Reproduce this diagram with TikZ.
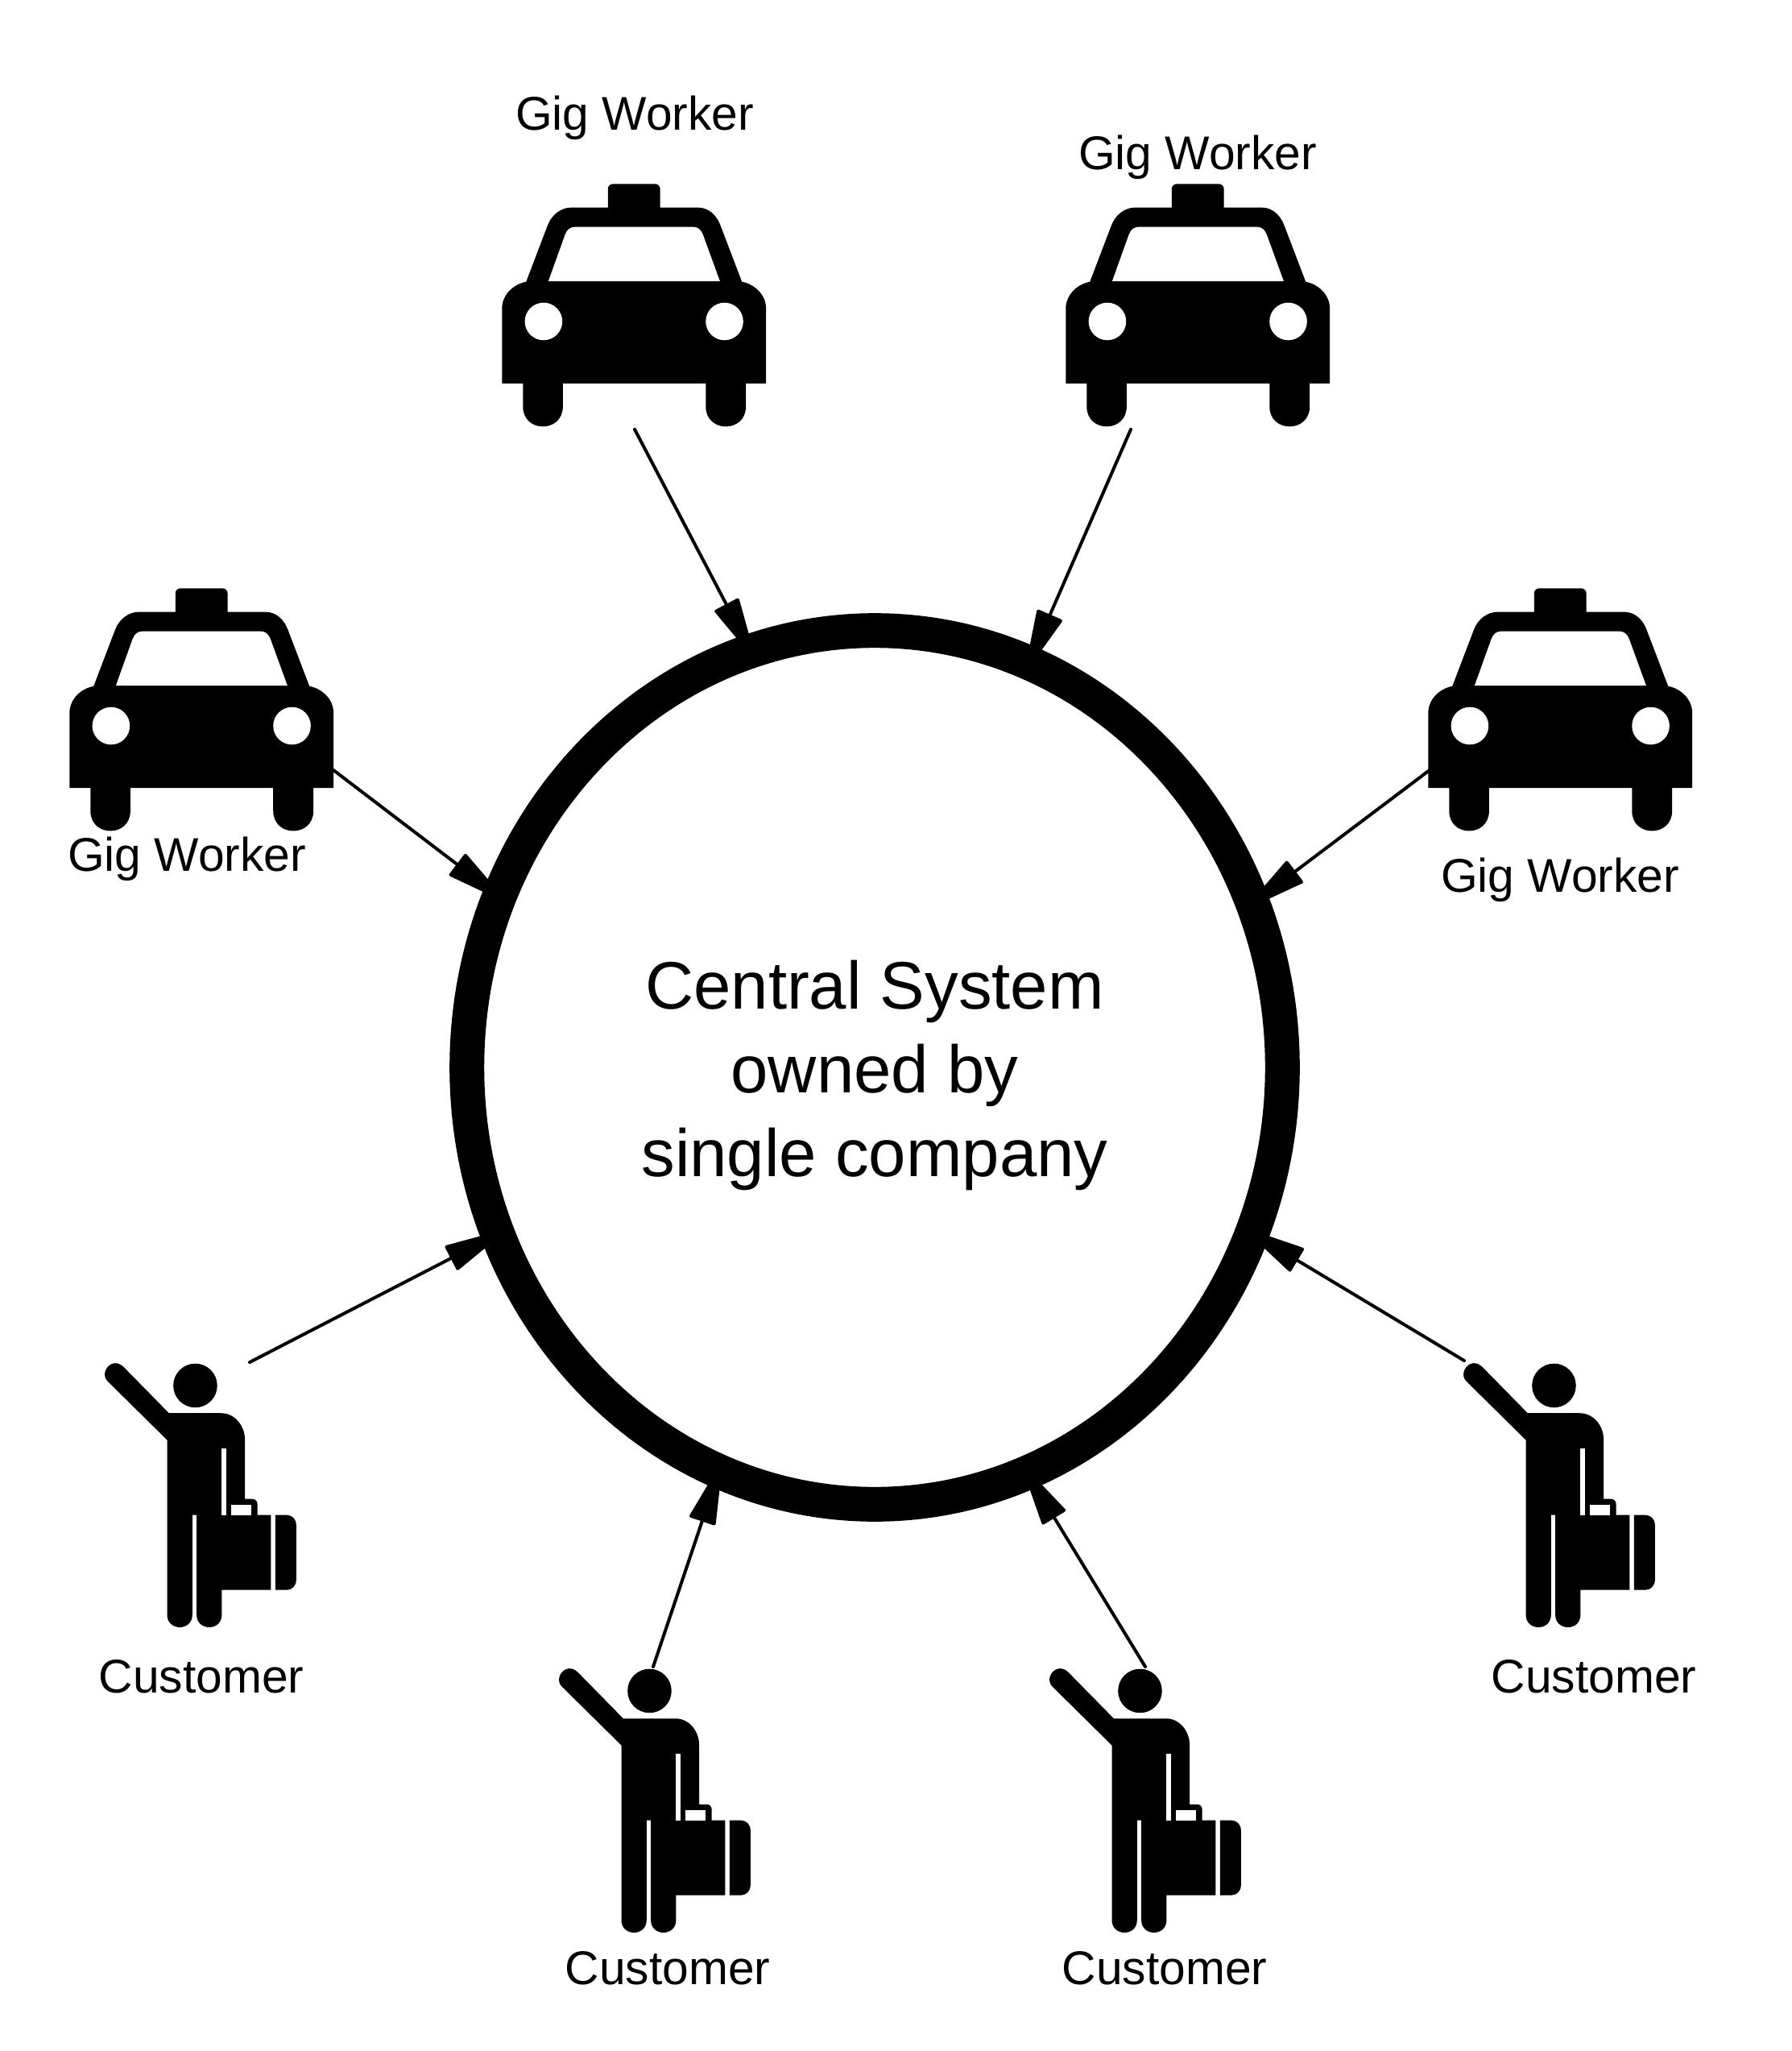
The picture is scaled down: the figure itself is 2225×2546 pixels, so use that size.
\documentclass[tikz,border=0pt]{standalone}
\usepackage{fontspec}
\setmainfont{Liberation Sans}
\usetikzlibrary{arrows.meta,shapes.geometric}
\tikzset{
  zoomunits/.style={x=0.0033333cm,y=-0.0033333cm},
  pics/cab/.style={code={
    \begin{scope}[zoomunits]
    \fill[black] (40,800) -- (40,520) .. controls (40,470) and (80,430) .. (130,420)
      -- (210,210) .. controls (225,170) and (260,143) .. (300,143)
      -- (435,143) -- (435,75) .. controls (435,63) and (443,55) .. (455,55)
      -- (610,55) .. controls (622,55) and (630,63) .. (630,75) -- (630,143)
      -- (770,143) .. controls (810,143) and (840,170) .. (855,210)
      -- (935,420) .. controls (985,430) and (1025,470) .. (1025,520)
      -- (1025,800) -- (950,800) -- (950,885) .. controls (950,985) and (800,985) .. (800,885)
      -- (800,800) -- (267,800) -- (267,885) .. controls (267,985) and (118,985) .. (118,885)
      -- (118,800) -- cycle;
    \fill[white] (213,418) -- (275,245) .. controls (282,225) and (295,215) .. (315,215)
      -- (750,215) .. controls (770,215) and (783,225) .. (790,245) -- (853,418) -- cycle;
    \fill[white] (195,568) circle[radius=70];
    \fill[white] (870,568) circle[radius=70];
    \end{scope}
  }},
  pics/rider/.style={code={
    \begin{scope}[zoomunits]
    \fill[black] (398,90) circle[radius=82];
    \fill[black] (72,75) .. controls (50,55) and (62,20) .. (85,10)
      .. controls (100,2) and (118,8) .. (130,20)
      -- (300,193) -- (495,193) .. controls (545,193) and (583,240) .. (583,290)
      -- (583,513) -- (610,513) .. controls (622,513) and (630,521) .. (630,533) -- (630,573)
      -- (680,573) -- (680,852) -- (497,852) -- (497,945)
      .. controls (497,1007) and (403,1007) .. (403,945) -- (403,573) -- (387,573) -- (387,945)
      .. controls (387,1007) and (293,1007) .. (293,945) -- (293,293) -- cycle;
    \fill[black] (697,573) -- (740,573) .. controls (760,573) and (775,590) .. (775,610)
      -- (775,815) .. controls (775,835) and (760,852) .. (740,852) -- (697,852) -- cycle;
    \fill[white] (497,323) rectangle (513,573);
    \fill[white] (533,535) rectangle (607,573);
    \end{scope}
  }},
  smalllabel/.style={font=\fontsize{16.7}{20}\selectfont,inner sep=0pt},
  hubstyle/.style={ellipse,draw=black,fill=white,line width=0.43cm,minimum width=10.12cm,minimum height=10.84cm,inner sep=0pt},
  hubtextstyle/.style={align=center,inner sep=0pt,font=\fontsize{23.7}{29.5}\selectfont},
  feed/.style={line width=0.04cm,line cap=round,shorten >=-0.3cm,-{Triangle[length=0.82cm,width=0.34cm,round]}}
}
\begin{document}
\begin{tikzpicture}[x=0.01cm,y=-0.01cm]
\path[use as bounding box,fill=white] (0,0) rectangle (2225,2546);

\node[hubstyle] (hub) at (1086,1325) {};
\node[hubtextstyle] (hubtext) at (1086,1335) {Central System\\owned by\\single company};

\pic at (610,210) {cab};
\pic at (1310,210) {cab};
\pic at (73,712) {cab};
\pic at (1760,712) {cab};

\pic at (110,1690) {rider};
\pic at (674,2069) {rider};
\pic at (1283,2069) {rider};
\pic at (1797,1690) {rider};

\node[smalllabel] (g1) at (788,146) {Gig Worker};
\node[smalllabel] (g2) at (1487,195) {Gig Worker};
\node[smalllabel] (g3) at (232,1066) {Gig Worker};
\node[smalllabel] (g4) at (1937,1092) {Gig Worker};
\node[smalllabel] (c1) at (250,2081) {Customer};
\node[smalllabel] (c2) at (829,2443) {Customer};
\node[smalllabel] (c3) at (1446,2443) {Customer};
\node[smalllabel] (c4) at (1979,2081) {Customer};

\coordinate (s1) at (788,533);
\coordinate (s2) at (1404,533);
\coordinate (s3) at (414,956);
\coordinate (s4) at (1775,956);
\coordinate (s5) at (310,1691);
\coordinate (s6) at (1818,1689);
\coordinate (s7) at (811,2069);
\coordinate (s8) at (1422,2069);

\draw[feed] (s1) -- (hub.107.9);
\draw[feed] (s2) -- (hub.69.1);
\draw[feed] (s3) -- (hub.155.2);
\draw[feed] (s4) -- (hub.24.4);
\draw[feed] (s5) -- (hub.204.2);
\draw[feed] (s6) -- (hub.336.6);
\draw[feed] (s7) -- (hub.249.6);
\draw[feed] (s8) -- (hub.291.2);
\end{tikzpicture}
\end{document}
